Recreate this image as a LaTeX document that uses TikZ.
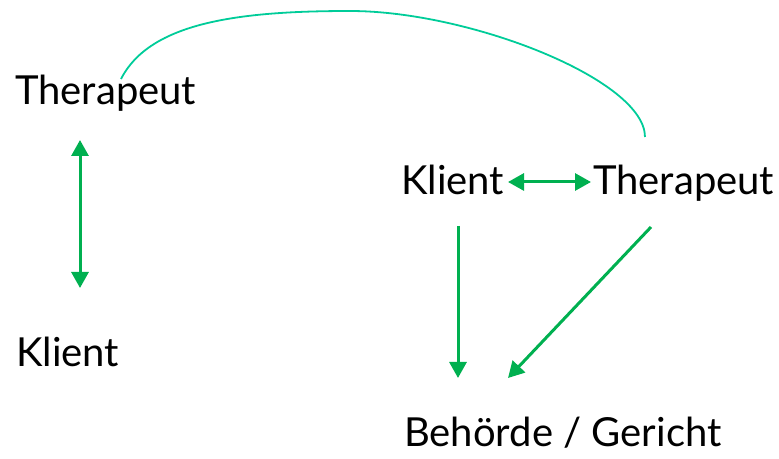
\documentclass[tikz,border=0pt]{standalone}
\usepackage{fontspec}
\setmainfont{Lato}
\usetikzlibrary{arrows.meta}
\definecolor{arrgreen}{RGB}{0,176,80}
\definecolor{curvegreen}{RGB}{0,204,153}
\begin{document}
\begin{tikzpicture}[x=1pt,y=1pt,
  lbl/.style={inner sep=0pt,anchor=base west,font=\fontsize{40}{40}\selectfont},
  tip/.style={Triangle[width=17pt,length=16pt]},
  arr/.style={draw=arrgreen,line width=3pt,-{Triangle[width=17pt,length=16pt]}},
  darr/.style={draw=arrgreen,line width=3pt,{Triangle[width=17pt,length=16pt]}-{Triangle[width=17pt,length=16pt]}}]
\useasboundingbox (0,0) rectangle (779,458);
\node[lbl] (T1) at (15,353) {Therapeut};
\node[lbl] (K1) at (16,91) {Klient};
\node[lbl] (K2) at (401,263) {Klient};
\node[lbl] (T2) at (593,263) {Therapeut};
\node[lbl] (B) at (404,12) {Behörde / Gericht};
\coordinate (c1a) at (80,318);
\coordinate (c1b) at (80,170);
\coordinate (c2a) at (508,276);
\coordinate (c2b) at (591,276);
\coordinate (c3a) at (458,232);
\coordinate (c3b) at (458,80);
\coordinate (c4a) at (651,231);
\coordinate (c4b) at (508,80);
\coordinate (cs) at (121,379);
\coordinate (ctop) at (350,447);
\coordinate (ce) at (645,321);
\draw[darr] (c1a) -- (c1b);
\draw[darr] (c2a) -- (c2b);
\draw[arr] (c3a) -- (c3b);
\draw[arr] (c4a) -- (c4b);
\draw[curvegreen,line width=1.8pt] (cs) .. controls (150,436) and (240,447) .. (ctop)
  .. controls (470,447) and (645,378) .. (ce);
\end{tikzpicture}
\end{document}
